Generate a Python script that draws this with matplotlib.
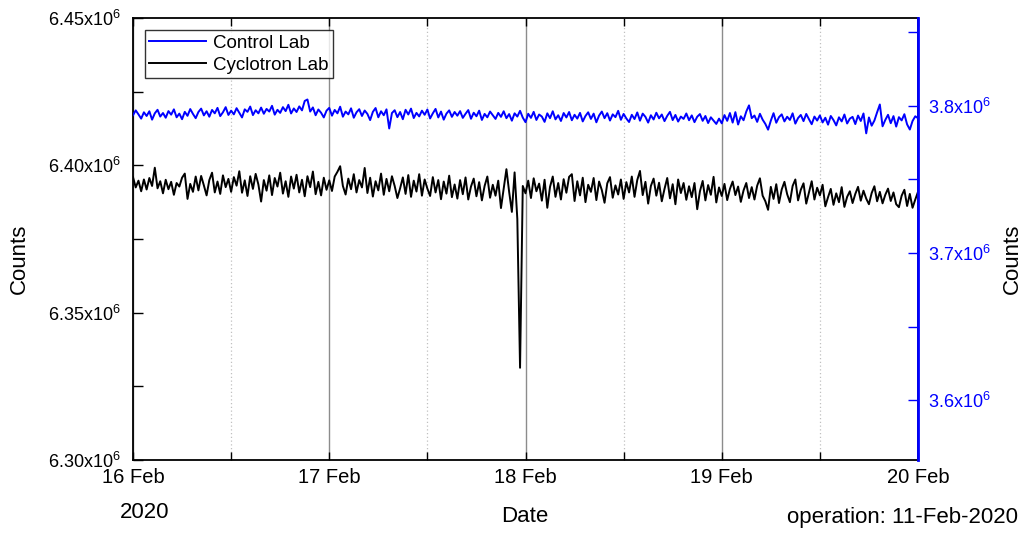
import numpy as np
import pandas as pd
import matplotlib
matplotlib.use("Agg")
import matplotlib.pyplot as plt
import matplotlib.dates as mdates
from matplotlib.ticker import MultipleLocator, FuncFormatter

plt.rcParams['font.family'] = ['Liberation Sans', 'DejaVu Sans']
plt.rcParams['mathtext.default'] = 'regular'

# 20-minute samples, 16 Feb 00:00 .. 20 Feb 00:00 (values in 10^6 counts)
times = pd.date_range("2020-02-16 00:00", "2020-02-20 00:00", freq="20min")

# Control Lab (right axis)
control = [
    # 16 Feb
    3.7935, 3.7968, 3.7941, 3.7912, 3.7955, 3.7930, 3.7962, 3.7905, 3.7948, 3.7972, 3.7926, 3.7950,
    3.7918, 3.7963, 3.7939, 3.7975, 3.7921, 3.7946, 3.7908, 3.7958, 3.7931, 3.7977, 3.7944, 3.7915,
    3.7957, 3.7980, 3.7934, 3.7962, 3.7925, 3.7971, 3.7948, 3.7985, 3.7929, 3.7955, 3.7990, 3.7937,
    3.7966, 3.7941, 3.7983, 3.7952, 3.7920, 3.7975, 3.7958, 3.7994, 3.7936, 3.7969, 3.7948, 3.7987,
    3.7945, 3.7978, 3.7960, 3.7999, 3.7939, 3.7972, 3.7951, 3.7990, 3.7963, 3.8006, 3.7947, 3.7981,
    3.7957, 3.7995, 3.7968, 3.8032, 3.8042, 3.7960, 3.7988, 3.7935, 3.7974, 3.7952, 3.7920, 3.7966,
    # 17 Feb
    3.7985, 3.7932, 3.7971, 3.7948, 3.7993, 3.7925, 3.7960, 3.7941, 3.7982, 3.7918, 3.7955, 3.7976,
    3.7930, 3.7967, 3.7944, 3.7902, 3.7958, 3.7984, 3.7921, 3.7962, 3.7935, 3.7975, 3.7845, 3.7950,
    3.7969, 3.7922, 3.7957, 3.7908, 3.7972, 3.7940, 3.7980, 3.7916, 3.7951, 3.7927, 3.7966, 3.7938,
    3.7974, 3.7913, 3.7948, 3.7978, 3.7920, 3.7960, 3.7905, 3.7946, 3.7968, 3.7924, 3.7957, 3.7932,
    3.7963, 3.7917, 3.7945, 3.7970, 3.7911, 3.7952, 3.7928, 3.7966, 3.7903, 3.7944, 3.7921, 3.7960,
    3.7935, 3.7910, 3.7951, 3.7924, 3.7962, 3.7915, 3.7943, 3.7898, 3.7948, 3.7926, 3.7965, 3.7919,
    # 18 Feb
    3.7888, 3.7945, 3.7917, 3.7958, 3.7903, 3.7940, 3.7926, 3.7890, 3.7948, 3.7915, 3.7962, 3.7907,
    3.7935, 3.7896, 3.7950, 3.7920, 3.7957, 3.7901, 3.7938, 3.7912, 3.7951, 3.7893, 3.7930, 3.7955,
    3.7910, 3.7946, 3.7887, 3.7933, 3.7960, 3.7915, 3.7949, 3.7899, 3.7941, 3.7922, 3.7965, 3.7904,
    3.7944, 3.7913, 3.7889, 3.7938, 3.7909, 3.7954, 3.7898, 3.7946, 3.7924, 3.7885, 3.7935, 3.7906,
    3.7952, 3.7914, 3.7940, 3.7895, 3.7931, 3.7958, 3.7902, 3.7937, 3.7892, 3.7926, 3.7910, 3.7947,
    3.7901, 3.7934, 3.7888, 3.7925, 3.7943, 3.7897, 3.7930, 3.7882, 3.7921, 3.7899, 3.7876, 3.7912,
    # 19 Feb
    3.7880, 3.7936, 3.7897, 3.7950, 3.7885, 3.7956, 3.7872, 3.7928, 3.7901, 3.7960, 3.8002, 3.7915,
    3.7933, 3.7890, 3.7945, 3.7905, 3.7876, 3.7837, 3.7898, 3.7949, 3.7884, 3.7922, 3.7941, 3.7893,
    3.7925, 3.7903, 3.7948, 3.7878, 3.7916, 3.7937, 3.7895, 3.7944, 3.7908, 3.7874, 3.7926, 3.7899,
    3.7934, 3.7886, 3.7918, 3.7871, 3.7930, 3.7902, 3.7866, 3.7921, 3.7893, 3.7940, 3.7879, 3.7912,
    3.7924, 3.7875, 3.7933, 3.7896, 3.7947, 3.7812, 3.7920, 3.7864, 3.7899, 3.7955, 3.8008, 3.7860,
    3.7903, 3.7938, 3.7881, 3.7929, 3.7858, 3.7922, 3.7900, 3.7942, 3.7873, 3.7838, 3.7896, 3.7928,
    3.7915,
]

# Cyclotron Lab (left axis)
cyclotron = [
    # 16 Feb
    6.3960, 6.3925, 6.3948, 6.3912, 6.3952, 6.3918, 6.3957, 6.3930, 6.3992, 6.3922, 6.3946, 6.3905,
    6.3951, 6.3919, 6.3944, 6.3900, 6.3940, 6.3928, 6.3958, 6.3972, 6.3886, 6.3937, 6.3910, 6.3962,
    6.3915, 6.3964, 6.3932, 6.3898, 6.3950, 6.3975, 6.3908, 6.3945, 6.3903, 6.3966, 6.3926, 6.3954,
    6.3910, 6.3960, 6.3931, 6.3980, 6.3907, 6.3949, 6.3896, 6.3963, 6.3920, 6.3971, 6.3935, 6.3877,
    6.3950, 6.3914, 6.3966, 6.3899, 6.3957, 6.3928, 6.3975, 6.3904, 6.3946, 6.3893, 6.3962, 6.3921,
    6.3968, 6.3908, 6.3951, 6.3895, 6.3963, 6.3926, 6.3979, 6.3902, 6.3944, 6.3898, 6.3958, 6.3917,
    # 17 Feb
    6.3949, 6.3913, 6.3962, 6.3978, 6.3997, 6.3930, 6.3901, 6.3955, 6.3919, 6.3970, 6.3908, 6.3950,
    6.3925, 6.3991, 6.3906, 6.3958, 6.3894, 6.3946, 6.3915, 6.3972, 6.3900, 6.3954, 6.3912, 6.3963,
    6.3930, 6.3889, 6.3922, 6.3959, 6.3903, 6.3967, 6.3893, 6.3948, 6.3911, 6.3970, 6.3897, 6.3952,
    6.3921, 6.3896, 6.3960, 6.3908, 6.3950, 6.3885, 6.3945, 6.3904, 6.3965, 6.3892, 6.3935, 6.3887,
    6.3950, 6.3902, 6.3959, 6.3884, 6.3928, 6.3955, 6.3895, 6.3943, 6.3881, 6.3930, 6.3962, 6.3890,
    6.3934, 6.3897, 6.3948, 6.3855, 6.3920, 6.3987, 6.3910, 6.3842, 6.3976, 6.3818, 6.3313, 6.3930,
    # 18 Feb
    6.3905, 6.3948, 6.3889, 6.3956, 6.3912, 6.3938, 6.3880, 6.3951, 6.3856, 6.3927, 6.3962, 6.3893,
    6.3940, 6.3884, 6.3953, 6.3907, 6.3961, 6.3970, 6.3879, 6.3946, 6.3898, 6.3958, 6.3875, 6.3934,
    6.3910, 6.3957, 6.3882, 6.3945, 6.3916, 6.3873, 6.3939, 6.3960, 6.3890, 6.3932, 6.3901, 6.3952,
    6.3886, 6.3943, 6.3908, 6.3962, 6.3893, 6.3950, 6.3981, 6.3899, 6.3944, 6.3870, 6.3930, 6.3955,
    6.3897, 6.3941, 6.3878, 6.3920, 6.3957, 6.3888, 6.3936, 6.3868, 6.3952, 6.3906, 6.3940, 6.3883,
    6.3929, 6.3892, 6.3940, 6.3851, 6.3912, 6.3947, 6.3881, 6.3933, 6.3900, 6.3961, 6.3874, 6.3925,
    # 19 Feb
    6.3896, 6.3937, 6.3882, 6.3920, 6.3945, 6.3899, 6.3928, 6.3876, 6.3915, 6.3940, 6.3889, 6.3926,
    6.3884, 6.3931, 6.3956, 6.3897, 6.3878, 6.3849, 6.3927, 6.3886, 6.3936, 6.3872, 6.3918, 6.3944,
    6.3902, 6.3875, 6.3930, 6.3952, 6.3881, 6.3917, 6.3939, 6.3870, 6.3908, 6.3946, 6.3884, 6.3924,
    6.3898, 6.3934, 6.3861, 6.3892, 6.3920, 6.3866, 6.3905, 6.3875, 6.3926, 6.3859, 6.3893, 6.3912,
    6.3872, 6.3903, 6.3927, 6.3880, 6.3914, 6.3887, 6.3868, 6.3906, 6.3929, 6.3878, 6.3910, 6.3871,
    6.3900, 6.3921, 6.3879, 6.3908, 6.3868, 6.3858, 6.3897, 6.3917, 6.3862, 6.3903, 6.3856, 6.3884,
    6.3910,
]

left_lim = (6.30, 6.45)
right_lim = (3.5595, 3.8595)


def sci_label(v, fmt):
    return (fmt % v) + "x10$^{6}$"


fig = plt.figure(figsize=(10.26, 5.34), dpi=100)
ax = fig.add_axes([133 / 1026, 1 - 460 / 534, 785 / 1026, 442 / 534])
ax2 = ax.twinx()

# grid: solid at days, dotted at noon
ax.xaxis.set_major_locator(mdates.DayLocator())
ax.xaxis.set_minor_locator(mdates.HourLocator(byhour=[12]))
ax.xaxis.set_major_formatter(mdates.DateFormatter("%d %b"))
ax.grid(True, which="major", axis="x", color="#8c8c8c", lw=1.0, ls="-")
ax.grid(True, which="minor", axis="x", color="#c0c0c0", lw=0.9, ls=(0, (1, 2)))

l_cyc, = ax.plot(times, cyclotron, color="black", lw=1.4, label="Cyclotron Lab")
l_ctl, = ax2.plot(times, control, color="#0000ff", lw=1.4, label="Control Lab")

ax.set_xlim(times[0], times[-1])
ax.set_ylim(*left_lim)
ax2.set_ylim(*right_lim)

ax.yaxis.set_major_locator(MultipleLocator(0.05))
ax.yaxis.set_minor_locator(MultipleLocator(0.025))
ax.yaxis.set_major_formatter(FuncFormatter(lambda v, p: sci_label(v, "%.2f")))
ax2.yaxis.set_major_locator(MultipleLocator(0.1))
ax2.yaxis.set_minor_locator(MultipleLocator(0.05))
ax2.yaxis.set_major_formatter(FuncFormatter(lambda v, p: sci_label(v, "%.1f")))

ax.tick_params(axis="y", which="both", direction="in", labelsize=13, right=False,
               length=7, width=1, pad=9)
ax.tick_params(axis="x", which="both", direction="in", top=True, labelsize=14.5, pad=6,
               length=6, width=1)
ax2.tick_params(axis="y", which="both", direction="in", colors="#0000ff", labelsize=13,
                length=7, width=1, pad=7)

for s in ax.spines.values():
    s.set_linewidth(1.3)
ax2.spines["right"].set_color("#0000ff")
ax2.spines["right"].set_linewidth(2.0)
for k in ("left", "top", "bottom"):
    ax2.spines[k].set_visible(False)

ax.set_ylabel("Counts", fontsize=16)
ax.yaxis.set_label_coords(-0.131, 0.455)
ax2.set_ylabel("Counts", fontsize=16)
ax2.yaxis.set_label_coords(1.107, 0.455)

fig.text(525 / 1026, 1 - 517 / 534, "Date", fontsize=16, ha="center", va="center")
fig.text(145 / 1026, 1 - 513 / 534, "2020", fontsize=16, ha="center", va="center")
fig.text(1018 / 1026, 1 - 517 / 534, "operation: 11-Feb-2020", fontsize=16,
         ha="right", va="center")

leg = ax2.legend([l_ctl, l_cyc], ["Control Lab", "Cyclotron Lab"], loc="upper left",
                 bbox_to_anchor=(0.015, 0.973), fontsize=13.5, frameon=True, fancybox=False,
                 handlelength=3.0, handletextpad=0.4, borderpad=0.25, labelspacing=0.25,
                 borderaxespad=0)
leg.get_frame().set_edgecolor("black")
leg.get_frame().set_linewidth(1.0)

fig.savefig("out.png", dpi=100)
